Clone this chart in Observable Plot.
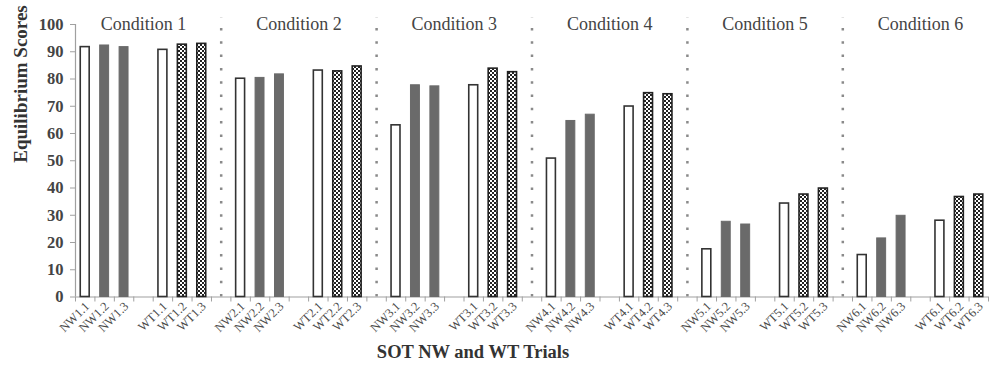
<!DOCTYPE html>
<html>
<head>
<meta charset="utf-8">
<script src="https://cdn.jsdelivr.net/npm/d3@7"></script>
<script src="https://cdn.jsdelivr.net/npm/@observablehq/plot@0.6"></script>
<style>
  html, body { margin: 0; padding: 0; background: #fff; }
  #chart svg { display: block; }
</style>
</head>
<body>
<div id="chart"></div>
<script>
// ---- data ----
const conditions = ["Condition 1", "Condition 2", "Condition 3", "Condition 4", "Condition 5", "Condition 6"];
const nwTicks = ["NW1.1","NW1.2","NW1.3","NW2.1","NW2.2","NW2.3","NW3.1","NW3.2","NW3.3",
                 "NW4.1","NW4.2","NW4.3","NW5.1","NW5.2","NW5.3","NW6.1","NW6.2","NW6.3"];
const wtTicks = ["WT1.1","WT1.2","WT1.3","WT2.1","WT2.2","WT2.3","WT3.1","WT3.2","WT3.3",
                 "WT4.1","WT4.2","WT4.3","WT5.1","WT5.2","WT5.3","WT6.1","WT6.2","WT6.3"];
const nwScores = [91.7, 92.3, 91.7, 80.1, 80.4, 81.7, 63.0, 77.7, 77.3,
                  50.8, 64.6, 66.9, 17.5, 27.6, 26.6, 15.4, 21.5, 29.8];
const wtScores = [90.7, 92.6, 92.9, 83.1, 82.8, 84.6, 77.7, 83.8, 82.5,
                  69.9, 74.8, 74.4, 34.3, 37.6, 39.8, 28.0, 36.7, 37.6];
const yTicks = [0, 10, 20, 30, 40, 50, 60, 70, 80, 90, 100];
const yTitle = "Equilibrium Scores";
const xTitle = "SOT NW and WT Trials";

// ---- build table: 8 slots per condition (3 NW, gap, 3 WT, gap) ----
const rows = [];
conditions.forEach((c, ci) => {
  for (let k = 0; k < 3; k++) {
    rows.push({slot: ci * 8 + k, label: nwTicks[ci * 3 + k], value: nwScores[ci * 3 + k], kind: k === 0 ? "open" : "solid"});
  }
  for (let k = 0; k < 3; k++) {
    rows.push({slot: ci * 8 + 4 + k, label: wtTicks[ci * 3 + k], value: wtScores[ci * 3 + k], kind: k === 0 ? "open" : "checker"});
  }
});
const nSlots = conditions.length * 8 - 1;
const dividers = d3.range(conditions.length - 1).map(i => i * 8 + 7.5);

const serif = "'Liberation Serif', 'DejaVu Serif', serif";
const inset = 0.27;

const svg = Plot.plot({
  width: 1002,
  height: 371,
  marginLeft: 75,
  marginRight: 14,
  marginTop: 24,
  marginBottom: 74.5,
  style: {background: "#fff", fontFamily: serif},
  x: {type: "linear", domain: [0, nSlots]},
  y: {domain: [0, 100]},
  marks: [
    // dotted condition dividers
    Plot.ruleX(dividers, {x: d => d, y1: 0, y2: 102.6, stroke: "#8a8a8a", strokeWidth: 2.5,
      strokeDasharray: "2.5,10.8", clip: false}),
    // axis lines
    Plot.ruleX([0], {stroke: "#a0a0a0", strokeWidth: 1.2}),
    Plot.ruleY([0], {stroke: "#a0a0a0", strokeWidth: 1.2}),
    Plot.axisY({ticks: yTicks, tickSize: 5, tickPadding: 7, stroke: "#a0a0a0", fill: "#444",
      fontSize: 16.5, fontWeight: "bold", fontFamily: serif, label: null}),
    Plot.axisX({ticks: d3.range(0, nSlots + 1), tickSize: 5, stroke: "#a0a0a0",
      tickFormat: () => "", label: null}),
    // bars
    Plot.rectY(rows.filter(d => d.kind === "open"), {x1: d => d.slot + inset, x2: d => d.slot + 1 - inset,
      y: "value", fill: "#fff", stroke: "#333", strokeWidth: 1.6}),
    Plot.rectY(rows.filter(d => d.kind === "solid"), {x1: d => d.slot + inset, x2: d => d.slot + 1 - inset,
      y: "value", fill: "#6a6a6a", stroke: "#6a6a6a", strokeWidth: 1}),
    Plot.rectY(rows.filter(d => d.kind === "checker"), {x1: d => d.slot + inset, x2: d => d.slot + 1 - inset,
      y: "value", fill: "url(#checker)", stroke: "#222", strokeWidth: 1.6}),
    // x tick labels
    Plot.text(rows, {x: d => d.slot + 0.5, text: "label", frameAnchor: "bottom", rotate: -45,
      textAnchor: "end", dx: 5, dy: 10, fontSize: 12.5, fill: "#4a4a4a", fontFamily: serif}),
    // condition labels
    Plot.text(conditions, {x: (d, i) => i * 8 + 3.5, text: d => d, frameAnchor: "top", dy: -7,
      fontSize: 18, fill: "#444", fontFamily: serif}),
    // titles
    Plot.text([yTitle], {frameAnchor: "left", rotate: -90, dx: -55, dy: 2, fontSize: 19,
      fontWeight: "bold", fill: "#333", fontFamily: serif}),
    Plot.text([xTitle], {frameAnchor: "bottom", dx: -59, dy: 61, fontSize: 18.5,
      fontWeight: "bold", fill: "#333", fontFamily: serif})
  ]
});

// checkerboard pattern
const defs = d3.select(svg).insert("defs", ":first-child");
const pat = defs.append("pattern").attr("id", "checker").attr("patternUnits", "userSpaceOnUse")
  .attr("width", 4).attr("height", 4);
pat.append("rect").attr("width", 4).attr("height", 4).attr("fill", "#fff");
pat.append("rect").attr("width", 2).attr("height", 2).attr("fill", "#222");
pat.append("rect").attr("x", 2).attr("y", 2).attr("width", 2).attr("height", 2).attr("fill", "#222");

document.getElementById("chart").appendChild(svg);
</script>
</body>
</html>
